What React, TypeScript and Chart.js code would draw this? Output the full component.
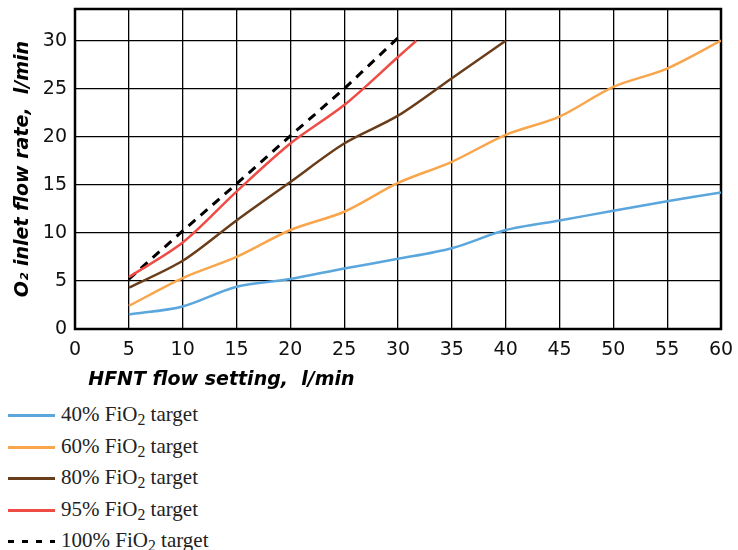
import React, { useEffect, useRef } from "react";
import { Chart, registerables } from "chart.js";

Chart.register(...registerables);

// HFNT flow settings (l/min)
const flowSettings = [5, 10, 15, 20, 25, 30, 35, 40, 45, 50, 55, 60];
// O2 inlet flow rate (l/min) per FiO2 target
const fio2_40 = [1.5, 2.35, 4.4, 5.2, 6.3, 7.3, 8.4, 10.3, 11.3, 12.3, 13.3, 14.2];
const fio2_60 = [2.4, 5.3, 7.5, 10.3, 12.2, 15.2, 17.4, 20.2, 22.1, 25.2, 27.1, 30];
const fio2_80X = [5, 10, 15, 20, 25, 30, 35, 40];
const fio2_80 = [4.3, 7.1, 11.3, 15.3, 19.3, 22.2, 26.1, 30];
const fio2_95X = [5, 10, 15, 20, 25, 30, 31.7];
const fio2_95 = [5.4, 9.0, 14.3, 19.3, 23.3, 28.3, 30];
const fio2_100X = [5, 10, 15, 20, 25, 30];
const fio2_100 = [5.2, 10.2, 15.1, 20.1, 25.0, 30.3];

const seriesLabels = ["40%", "60%", "80%", "95%", "100%"];
const seriesColors = ["#5aa6dd", "#f9a54b", "#6a3d1a", "#ee4c45", "#000000"];

const xTickValues = [0, 5, 10, 15, 20, 25, 30, 35, 40, 45, 50, 55, 60];
const yTickValues = [0, 5, 10, 15, 20, 25, 30];

const toPoints = (xs: number[], ys: number[]) => ys.map((y, i) => ({ x: xs[i], y }));

const framePlugin = {
  id: "frame",
  beforeDatasetsDraw(chart: any) {
    const { ctx, chartArea } = chart;
    ctx.save();
    ctx.strokeStyle = "#000";
    ctx.lineWidth = 2.5;
    ctx.strokeRect(chartArea.left, chartArea.top, chartArea.right - chartArea.left, chartArea.bottom - chartArea.top);
    ctx.restore();
  },
};

const tickFont = { family: "'DejaVu Sans', sans-serif", size: 19 };
const titleFont = { family: "'DejaVu Sans', sans-serif", size: 19, style: "italic" as const, weight: "bold" as const };

export default function App() {
  const ref = useRef<HTMLCanvasElement | null>(null);

  useEffect(() => {
    if (!ref.current) return;
    const seriesData = [
      toPoints(flowSettings, fio2_40),
      toPoints(flowSettings, fio2_60),
      toPoints(fio2_80X, fio2_80),
      toPoints(fio2_95X, fio2_95),
      toPoints(fio2_100X, fio2_100),
    ];
    const chart = new Chart(ref.current, {
      type: "line",
      data: {
        datasets: seriesData.map((d, i) => ({
          label: seriesLabels[i] + " FiO₂ target",
          data: d,
          borderColor: seriesColors[i],
          backgroundColor: seriesColors[i],
          borderWidth: i === 4 ? 3 : 2.5,
          borderDash: i === 4 ? [9, 7] : [],
          pointRadius: 0,
          tension: i === 4 ? 0 : 0.3,
          fill: false,
        })),
      },
      options: {
        animation: false,
        responsive: true,
        maintainAspectRatio: false,
        layout: { padding: { left: 4, right: 0, top: 9, bottom: 0 } },
        plugins: { legend: { display: false }, tooltip: { enabled: false } },
        scales: {
          x: {
            type: "linear",
            min: 0,
            max: 60,
            bounds: "data",
            afterBuildTicks: (axis: any) => {
              axis.ticks = xTickValues.map((v) => ({ value: v }));
            },
            afterFit: (scale: any) => {
              scale.height = 66;
              scale.paddingRight = 17;
              scale.paddingLeft = 0;
            },
            ticks: { color: "#111", font: tickFont, padding: 10 },
            grid: { color: "#000", lineWidth: 1.3, drawTicks: false },
            border: { display: false },
            title: {
              display: true,
              text: "  HFNT flow setting,  l/min",
              align: "start",
              color: "#000",
              font: titleFont,
              padding: { top: 6, bottom: 4 },
            },
          },
          y: {
            type: "linear",
            min: 0,
            max: 33.3,
            bounds: "data",
            afterBuildTicks: (axis: any) => {
              axis.ticks = yTickValues.map((v) => ({ value: v }));
            },
            afterFit: (scale: any) => {
              scale.width = 71;
              scale.paddingTop = 0;
              scale.paddingBottom = 0;
            },
            ticks: { color: "#111", font: tickFont, padding: 8 },
            grid: { color: "#000", lineWidth: 1.3, drawTicks: false },
            border: { display: false },
            title: {
              display: true,
              text: "O₂ inlet flow rate,  l/min",
              color: "#000",
              font: titleFont,
              padding: { top: 8, bottom: 8 },
            },
          },
        },
      },
      plugins: [framePlugin],
    });
    return () => chart.destroy();
  }, []);

  return (
    <div style={{ position: "absolute", left: 0, top: 0, width: 738, height: 550, background: "#fff" }}>
      <div style={{ position: "absolute", left: 0, top: 0, width: 738, height: 395 }}>
        <canvas ref={ref} />
      </div>
      <div
        style={{
          position: "absolute",
          left: 8,
          top: 400,
          fontFamily: "'Liberation Serif', 'DejaVu Serif', serif",
          fontSize: 21,
          color: "#222",
        }}
      >
        {seriesLabels.map((lab, i) => (
          <div key={lab} style={{ display: "flex", alignItems: "center", height: 31.5 }}>
            <span
              style={{
                display: "inline-block",
                width: 47,
                height: 3,
                marginRight: 6,
                background:
                  i === 4
                    ? "repeating-linear-gradient(90deg, #000 0 6px, transparent 6px 14px)"
                    : seriesColors[i],
              }}
            />
            <span>
              {lab} FiO<sub style={{ fontSize: "0.75em", verticalAlign: "-0.25em" }}>2</sub> target
            </span>
          </div>
        ))}
      </div>
    </div>
  );
}
